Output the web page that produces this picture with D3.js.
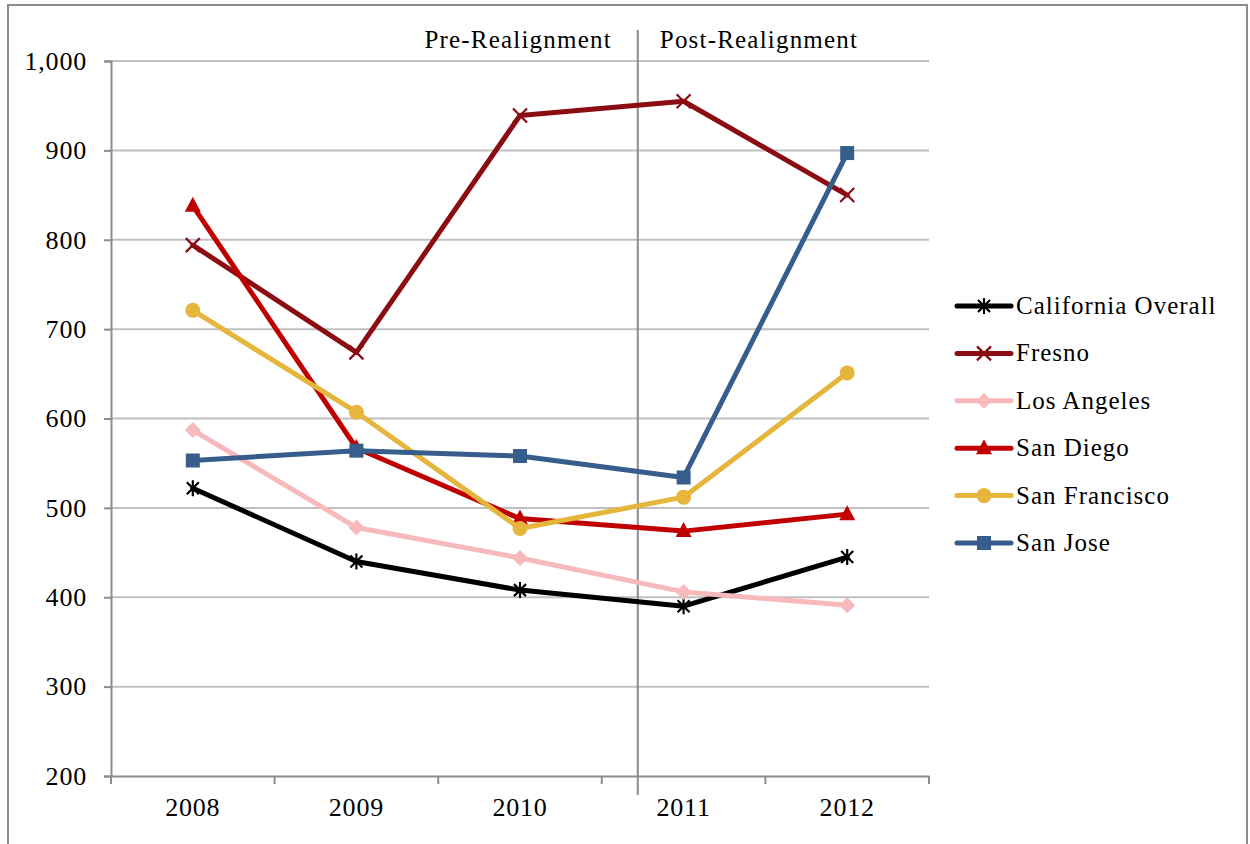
<!DOCTYPE html>
<html>
<head>
<meta charset="utf-8">
<script src="https://cdn.jsdelivr.net/npm/d3@7"></script>
<style>
  body { margin: 0; background: #fff; }
  svg { display: block; }
  text { font-family: "Liberation Serif", "DejaVu Serif", serif; fill: #000; }
</style>
</head>
<body>
<svg id="chart" width="1250" height="844"></svg>
<script>
// data
var years = ["2008", "2009", "2010", "2011", "2012"];
var seriesNames = ["California Overall", "Fresno", "Los Angeles", "San Diego", "San Francisco", "San Jose"];
var californiaOverall = [522, 440, 408, 390, 445];
var fresno = [794, 674, 939, 955, 850];
var losAngeles = [587, 478, 444, 406, 391];
var sanDiego = [838, 567, 488, 474, 493];
var sanFrancisco = [721, 607, 477, 512, 651];
var sanJose = [553, 564, 558, 534, 897];
var yTicks = [200, 300, 400, 500, 600, 700, 800, 900, 1000];
var periodLabels = ["Pre-Realignment", "Post-Realignment"];

var colors = ["#000000", "#8b0c12", "#f8b9bb", "#c00000", "#e6b53c", "#365d8c"];
var shapes = ["asterisk", "cross", "diamond", "triangle", "circle", "square"];
var values = [californiaOverall, fresno, losAngeles, sanDiego, sanFrancisco, sanJose];

var series = seriesNames.map(function(name, i) {
	return { name: name, color: colors[i], shape: shapes[i], values: values[i] };
});

var svg = d3.select("#chart");
var margin = { top: 61, left: 111, right: 321, bottom: 68 };
var width = 1250, height = 844;
var serif = '"Liberation Serif", "DejaVu Serif", serif';

var x = d3.scaleBand().domain(years).range([margin.left, width - margin.right]).padding(0);
var y = d3.scaleLinear().domain([200, 1000]).range([height - margin.bottom, margin.top]);
var cx = function(d) { return x(d) + x.bandwidth() / 2; };

// outer border (bottom edge is cropped)
svg.append("path")
	.attr("d", "M8,850 V5 H1247 V850")
	.attr("fill", "none")
	.attr("stroke", "#8c8c8c")
	.attr("stroke-width", 2);

// gridlines
svg.append("g")
	.selectAll("line").data(yTicks.filter(function(t) { return t > 200; }))
	.enter().append("line")
	.attr("x1", margin.left).attr("x2", width - margin.right)
	.attr("y1", function(d) { return y(d); }).attr("y2", function(d) { return y(d); })
	.attr("stroke", "#c0c0c0")
	.attr("stroke-width", 2);

// y axis
var yAxis = svg.append("g")
	.attr("transform", "translate(" + margin.left + ",0)")
	.call(d3.axisLeft(y).tickValues(yTicks).tickFormat(d3.format(",")).tickSize(7).tickPadding(17));

// x axis with ticks on band edges
var xAxis = svg.append("g")
	.attr("transform", "translate(0," + y(200) + ")")
	.call(d3.axisBottom(x).tickSize(0).tickPadding(22));
var edges = years.map(function(d) { return x(d); }).concat([width - margin.right]);
xAxis.selectAll("line.edge").data(edges)
	.enter().append("line")
	.attr("class", "edge")
	.attr("x1", function(d) { return d; }).attr("x2", function(d) { return d; })
	.attr("y1", 0).attr("y2", 8)
	.attr("stroke", "#8c8c8c").attr("stroke-width", 2);

[yAxis, xAxis].forEach(function(a) {
	a.attr("font-family", serif).attr("font-size", 26);
	a.selectAll("text")
		.style("font-family", serif)
		.style("font-size", "26px")
		.style("letter-spacing", "0.8px")
		.attr("fill", "#000");
	a.selectAll(".domain, .tick line").attr("stroke", "#8c8c8c").attr("stroke-width", 2);
});

// realignment divider
var divX = x("2011") + x.bandwidth() * 0.22;
svg.append("line")
	.attr("x1", divX).attr("x2", divX)
	.attr("y1", 30).attr("y2", y(200) + 19)
	.attr("stroke", "#8c8c8c").attr("stroke-width", 2);
svg.append("text")
	.attr("x", divX - 26).attr("y", 48)
	.attr("text-anchor", "end")
	.style("font-size", "25px")
	.style("letter-spacing", "1.2px")
	.text(periodLabels[0]);
svg.append("text")
	.attr("x", divX + 22).attr("y", 48)
	.style("font-size", "25px")
	.style("letter-spacing", "1.2px")
	.text(periodLabels[1]);

// marker drawing
function drawMarker(g, shape, color) {
	if (shape == "asterisk") {
		g.append("path")
			.attr("d", "M-6,-6L6,6M-6,6L6,-6M0,-8V8")
			.attr("stroke", color).attr("stroke-width", 2.2).attr("fill", "none");
	} else if (shape == "cross") {
		g.append("path")
			.attr("d", "M-7,-7L7,7M-7,7L7,-7")
			.attr("stroke", color).attr("stroke-width", 2.2).attr("fill", "none");
	} else if (shape == "diamond") {
		g.append("path").attr("d", "M0,-8L8,0L0,8L-8,0Z").attr("fill", color);
	} else if (shape == "triangle") {
		g.append("path").attr("d", "M0,-9L8,6L-8,6Z").attr("fill", color);
	} else if (shape == "circle") {
		g.append("circle").attr("r", 7.5).attr("fill", color);
	} else if (shape == "square") {
		g.append("rect").attr("x", -7).attr("y", -7).attr("width", 14).attr("height", 14).attr("fill", color);
	}
}

var line = d3.line()
	.x(function(d, i) { return cx(years[i]); })
	.y(function(d) { return y(d); });

// lines
var gSeries = svg.append("g").selectAll("g.series").data(series)
	.enter().append("g")
	.attr("class", "series");

gSeries.append("path")
	.attr("d", function(d) { return line(d.values); })
	.attr("fill", "none")
	.attr("stroke", function(d) { return d.color; })
	.attr("stroke-width", 5)
	.attr("stroke-linejoin", "round")
	.attr("stroke-linecap", "round");

gSeries.each(function(s) {
	d3.select(this).selectAll("g.mark").data(s.values)
		.enter().append("g")
		.attr("class", "mark")
		.attr("transform", function(d, i) { return "translate(" + cx(years[i]) + "," + y(d) + ")"; })
		.each(function() { drawMarker(d3.select(this), s.shape, s.color); });
});

// legend
var legend = svg.append("g").attr("transform", "translate(957,306)");
var items = legend.selectAll("g.item").data(series)
	.enter().append("g")
	.attr("class", "item")
	.attr("transform", function(d, i) { return "translate(0," + (i * 47.4) + ")"; });
items.append("line")
	.attr("x1", 0).attr("x2", 54)
	.attr("stroke", function(d) { return d.color; })
	.attr("stroke-width", 5)
	.attr("stroke-linecap", "round");
items.each(function(s) {
	var m = d3.select(this).append("g").attr("transform", "translate(27,0)");
	drawMarker(m, s.shape, s.color);
});
items.append("text")
	.attr("x", 59).attr("y", 8)
	.style("font-size", "25px")
	.style("letter-spacing", "1px")
	.text(function(d) { return d.name; });
</script>
</body>
</html>
